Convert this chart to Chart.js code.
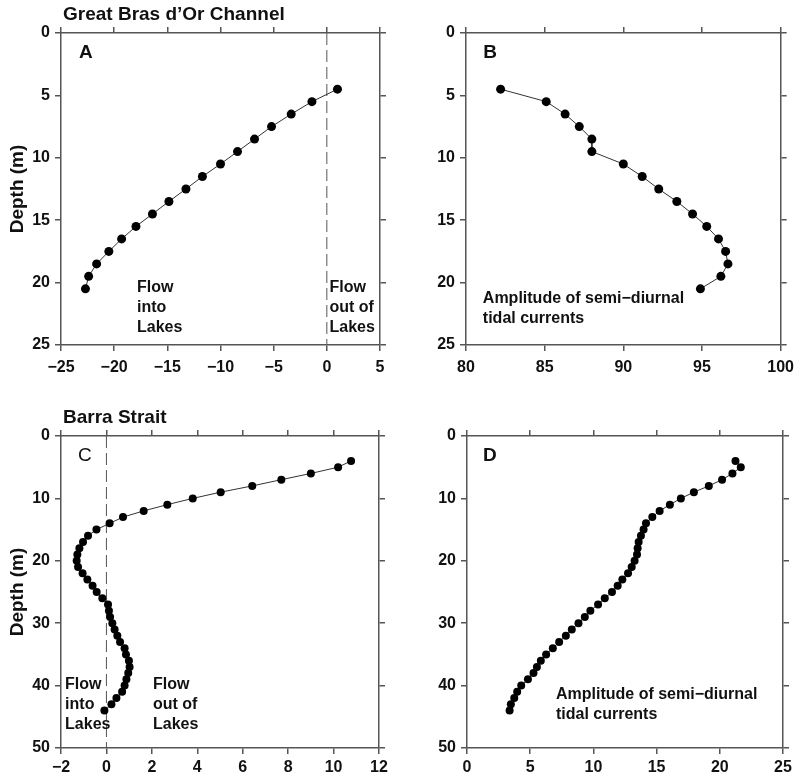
<!DOCTYPE html>
<html>
<head>
<meta charset="utf-8">
<script src="https://cdn.jsdelivr.net/npm/chart.js@4.4.1/dist/chart.umd.min.js"></script>
<style>
  body { margin: 0; background: #fff; }
  .panel { position: absolute; }
</style>
</head>
<body>
<div class="panel" style="left:0px;top:0px;width:400px;height:380px"><canvas id="chart_a"></canvas></div>
<div class="panel" style="left:400px;top:0px;width:401px;height:380px"><canvas id="chart_b"></canvas></div>
<div class="panel" style="left:0px;top:380px;width:400px;height:398px"><canvas id="chart_c"></canvas></div>
<div class="panel" style="left:400px;top:380px;width:401px;height:398px"><canvas id="chart_d"></canvas></div>
<script>
// Great Bras d'Or Channel (panels A, B)
const depthChannel = [4.5, 5.5, 6.5, 7.5, 8.5, 9.5, 10.5, 11.5, 12.5, 13.5, 14.5, 15.5, 16.5, 17.5, 18.5, 19.5, 20.5];
const residualChannel = [1.0, -1.4, -3.35, -5.2, -6.8, -8.4, -10.0, -11.7, -13.25, -14.85, -16.4, -17.95, -19.3, -20.5, -21.65, -22.4, -22.7];
const amplitudeChannel = [82.2, 85.1, 86.3, 87.2, 88.0, 88.0, 90.0, 91.2, 92.25, 93.4, 94.4, 95.3, 96.05, 96.5, 96.65, 96.2, 94.9];

// Barra Strait (panels C, D)
const depthStrait = [4, 5, 6, 7, 8, 9, 10, 11, 12, 13, 14, 15, 16, 17, 18, 19, 20, 21, 22, 23, 24,
  25, 26, 27, 28, 29, 30, 31, 32, 33, 34, 35, 36, 37, 38, 39, 40, 41, 42, 43, 44];
const residualStrait = [10.77, 10.2, 9.0, 7.7, 6.42, 5.03, 3.8, 2.68, 1.64, 0.73, 0.14, -0.44, -0.81, -1.03,
  -1.19, -1.28, -1.31, -1.25, -1.05, -0.84, -0.61, -0.43, -0.18, 0.07, 0.11, 0.16, 0.26, 0.36, 0.48, 0.6,
  0.8, 0.86, 0.99, 1.02, 0.96, 0.88, 0.8, 0.69, 0.44, 0.22, -0.09];
const amplitudeStrait = [21.24, 21.66, 21.0, 20.18, 19.13, 17.95, 16.92, 16.05, 15.24, 14.66, 14.16, 13.97,
  13.76, 13.58, 13.5, 13.45, 13.26, 13.03, 12.74, 12.29, 11.92, 11.47, 10.9, 10.37, 9.76, 9.32, 8.82, 8.29,
  7.82, 7.29, 6.79, 6.26, 5.84, 5.53, 5.26, 4.82, 4.29, 3.97, 3.74, 3.47, 3.37];

// axis ranges [min, max, step]
const xRangeA = [-25, 5, 5];
const xRangeB = [80, 100, 5];
const xRangeC = [-2, 12, 2];
const xRangeD = [0, 25, 5];
const depthRangeChannel = [0, 25, 5];
const depthRangeStrait = [0, 50, 10];

const axisColor = '#555';
const fontFamily = '"Liberation Sans", Arial, Helvetica, sans-serif';
Chart.defaults.font.family = fontFamily;
Chart.defaults.color = '#111';

function tickText(v) {
  return v < 0 ? '\u2212' + Math.abs(v) : String(v);
}

function toPoints(xs, ys) {
  return xs.map((x, i) => ({x: x, y: ys[i]}));
}

// draws panel titles, letters and the little notes inside the plots
const notesPlugin = {
  id: 'notes',
  afterDraw(chart, args, opts) {
    const ctx = chart.ctx;
    const xs = chart.scales.x;
    const ys = chart.scales.y;
    ctx.save();
    ctx.fillStyle = '#111';
    ctx.textAlign = 'left';
    ctx.textBaseline = 'middle';
    if (opts.title) {
      ctx.font = 'bold 19px ' + fontFamily;
      ctx.fillText(opts.title, chart.chartArea.left + 2, chart.chartArea.top - 18);
    }
    (opts.items || []).forEach(item => {
      ctx.font = item.font + ' ' + fontFamily;
      let px = xs.getPixelForValue(item.x);
      let py = ys.getPixelForValue(item.y);
      item.lines.forEach((line, i) => ctx.fillText(line, px, py + i * 20));
    });
    ctx.restore();
  }
};

function makePanel(id, p) {
  const grid = {drawOnChartArea: false, drawTicks: true, tickLength: 6, color: axisColor, lineWidth: 1.5};
  const border = {display: true, color: axisColor, width: 1.5};
  const tickFont = {size: 16, weight: 'bold'};

  let datasets = [{
    data: p.points,
    showLine: true,
    borderColor: '#333',
    borderWidth: 1,
    pointRadius: p.radius,
    pointBackgroundColor: '#000',
    pointBorderColor: '#000',
    pointBorderWidth: 0
  }];
  if (p.zeroLine) {
    datasets.push({
      data: [{x: 0, y: p.yRange[0]}, {x: 0, y: p.yRange[1]}],
      showLine: true,
      borderColor: '#555',
      borderWidth: 1,
      borderDash: [12, 5],
      pointRadius: 0
    });
  }

  return new Chart(document.getElementById(id), {
    type: 'scatter',
    data: {datasets: datasets},
    options: {
      responsive: true,
      maintainAspectRatio: false,
      animation: false,
      layout: {padding: 0},
      plugins: {
        legend: {display: false},
        tooltip: {enabled: false},
        notes: {title: p.title, items: p.notes}
      },
      scales: {
        x: {
          type: 'linear', position: 'bottom',
          min: p.xRange[0], max: p.xRange[1],
          ticks: {stepSize: p.xRange[2], padding: p.xPad, font: tickFont, color: '#111', callback: tickText, maxRotation: 0, autoSkip: false},
          grid: grid, border: border,
          afterFit: s => { s.height = p.box.bottom; }
        },
        x2: {
          type: 'linear', position: 'top',
          min: p.xRange[0], max: p.xRange[1],
          ticks: {stepSize: p.xRange[2], display: false},
          grid: grid, border: border,
          afterFit: s => { s.height = p.box.top; }
        },
        y: {
          type: 'linear', position: 'left', reverse: true,
          min: p.yRange[0], max: p.yRange[1],
          ticks: {stepSize: p.yRange[2], padding: 5, font: tickFont, color: '#111', callback: tickText},
          title: {display: !!p.yTitle, text: p.yTitle, font: {size: 19, weight: 'bold'}, color: '#111', padding: {top: 6, bottom: 0}},
          grid: grid, border: border,
          afterFit: s => { s.width = p.box.left; }
        },
        y2: {
          type: 'linear', position: 'right', reverse: true,
          min: p.yRange[0], max: p.yRange[1],
          ticks: {stepSize: p.yRange[2], display: false},
          grid: grid, border: border,
          afterFit: s => { s.width = p.box.right; }
        }
      }
    },
    plugins: [notesPlugin]
  });
}

makePanel('chart_a', {
  points: toPoints(residualChannel, depthChannel),
  radius: 4.5,
  zeroLine: true,
  xRange: xRangeA,
  yRange: depthRangeChannel,
  xPad: 7,
  yTitle: 'Depth (m)',
  title: 'Great Bras d\u2019Or Channel',
  box: {left: 61, right: 20, top: 33, bottom: 35},
  notes: [
    {x: -23.3, y: 1.6, font: 'bold 19px', lines: ['A']},
    {x: -17.85, y: 20.4, font: 'bold 16px', lines: ['Flow', 'into', 'Lakes']},
    {x: 0.25, y: 20.4, font: 'bold 16px', lines: ['Flow', 'out of', 'Lakes']}
  ]
});

makePanel('chart_b', {
  points: toPoints(amplitudeChannel, depthChannel),
  radius: 4.5,
  zeroLine: false,
  xRange: xRangeB,
  yRange: depthRangeChannel,
  xPad: 7,
  yTitle: '',
  title: '',
  box: {left: 66, right: 18, top: 33, bottom: 35},
  notes: [
    {x: 81.1, y: 1.6, font: 'bold 19px', lines: ['B']},
    {x: 81.07, y: 21.3, font: 'bold 16px', lines: ['Amplitude of semi\u2212diurnal', 'tidal currents']}
  ]
});

makePanel('chart_c', {
  points: toPoints(residualStrait, depthStrait),
  radius: 4,
  zeroLine: true,
  xRange: xRangeC,
  yRange: depthRangeStrait,
  xPad: 4,
  yTitle: 'Depth (m)',
  title: 'Barra Strait',
  box: {left: 61, right: 21, top: 56, bottom: 30},
  notes: [
    {x: -1.25, y: 3.2, font: '19px', lines: ['C']},
    {x: -1.82, y: 39.9, font: 'bold 16px', lines: ['Flow', 'into', 'Lakes']},
    {x: 2.05, y: 39.9, font: 'bold 16px', lines: ['Flow', 'out of', 'Lakes']}
  ]
});

makePanel('chart_d', {
  points: toPoints(amplitudeStrait, depthStrait),
  radius: 4,
  zeroLine: false,
  xRange: xRangeD,
  yRange: depthRangeStrait,
  xPad: 4,
  yTitle: '',
  title: '',
  box: {left: 67, right: 18, top: 56, bottom: 30},
  notes: [
    {x: 1.27, y: 3.2, font: 'bold 19px', lines: ['D']},
    {x: 7.04, y: 41.5, font: 'bold 16px', lines: ['Amplitude of semi\u2212diurnal', 'tidal currents']}
  ]
});
</script>
</body>
</html>
